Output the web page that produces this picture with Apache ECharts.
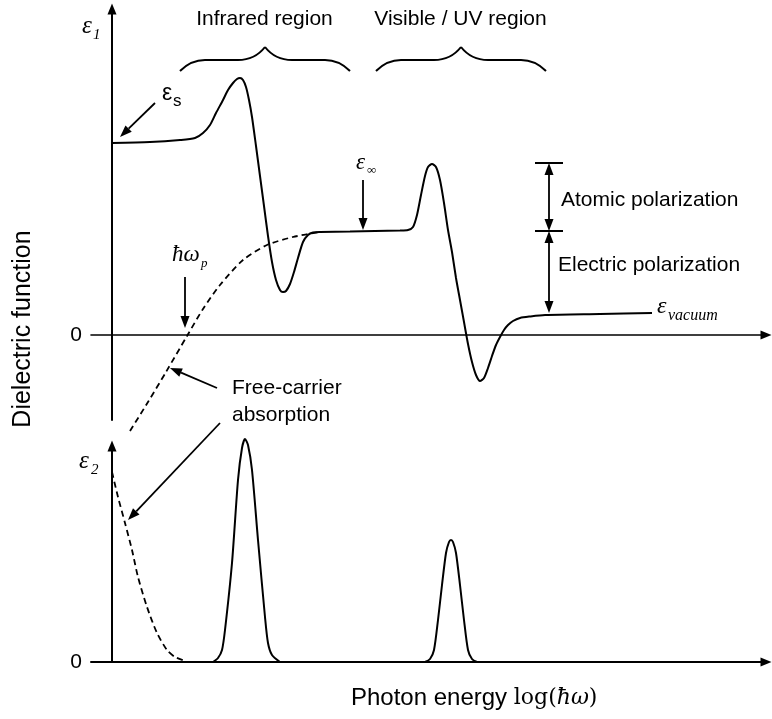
<!DOCTYPE html>
<html><head><meta charset="utf-8">
<script src="https://cdn.jsdelivr.net/npm/echarts@6/dist/echarts.min.js"></script>
<style>html,body{margin:0;padding:0;background:#fff}#c{width:772px;height:719px}</style>
</head><body><div id="c"></div>
<script>
// ---- data (schematic units: x = log photon energy, y = dielectric function) ----
const eps1X = [0,3.8,6.8,8.3,9.1,9.8,10.4,11.1,11.6,12.1,12.5,12.8,13.1,13.4,13.7,14.0,14.4,14.8,15.2,15.6,16.0,16.4,16.8,17.1,17.4,17.8,18.2,18.6,19.1,19.6,20.1,20.8,23.8,28.8,29.6,30.1,30.5,30.9,31.3,31.6,32.0,32.4,32.8,33.2,33.6,34.0,34.4,34.8,35.2,35.6,36.0,36.4,36.8,37.2,37.6,38.0,38.4,38.8,39.2,39.6,40.1,40.8,41.8,43.3,48.8,54.0];
const eps1Y = [19.2,19.3,19.5,19.7,20.2,21.0,22.2,23.5,24.5,25.2,25.6,25.7,25.5,24.8,23.5,21.8,18.9,15.9,12.9,9.9,7.3,5.5,4.5,4.3,4.4,5.1,6.3,7.7,9.3,10.0,10.25,10.3,10.35,10.45,10.5,10.8,12.0,14.0,15.9,16.8,17.1,16.8,15.5,13.2,10.5,8.3,5.7,3.5,1.3,-0.9,-2.7,-4.0,-4.6,-4.3,-3.3,-2.1,-1.0,-0.2,0.5,1.0,1.4,1.7,1.85,2.0,2.1,2.2];
const freeEps1X = [1.8,3.6,5.4,7.5,9.1,10.8,13.1,15.5,18.1,20.8];
const freeEps1Y = [-9.6,-6.7,-3.7,-0.1,2.6,5.0,7.5,9.0,9.8,10.3];
const freeEps2X = [0,0.6,1.3,2.0,2.6,3.5,4.5,5.5,6.3,7.3];
const freeEps2Y = [19.0,16.5,13.9,11.2,8.5,5.5,2.9,1.2,0.5,0.1];
const irPeakX = [10.1,10.6,11.0,11.3,12.0,12.6,13.0,13.3,13.6,14.0,14.6,15.3,15.6,16.0,16.8];
const irPeakY = [0,0.4,1.2,3.2,9.9,18.2,21.4,22.3,21.7,19.2,12.2,4.5,1.9,0.7,0];
const uvPeakX = [31.3,31.8,32.2,32.6,33.0,33.4,33.7,33.9,34.1,34.4,34.8,35.2,35.6,36.0,36.5];
const uvPeakY = [0,0.3,1.2,4.2,7.7,10.9,12.0,12.2,12.0,10.9,7.7,4.2,1.2,0.3,0];
const yTickLabels = ['0'];

const zip = (xs, ys) => xs.map((x, i) => [x, ys[i]]);
const SANS = "'Liberation Sans', Arial, sans-serif";
const SERIF = "'Liberation Serif', 'Times New Roman', serif";
const BLACK = '#000';

const chart = echarts.init(document.getElementById('c'), null, {renderer: 'canvas'});

function xAx(gi, w) {
  return {type: 'value', gridIndex: gi, min: -2.1, max: 65.4,
    axisLine: {onZero: true, lineStyle: {color: BLACK, width: w}, symbol: ['none', 'triangle'], symbolSize: [9, 11]},
    axisTick: {show: false}, axisLabel: {show: false}, splitLine: {show: false}};
}
function yAx(gi, min, max) {
  return {type: 'value', gridIndex: gi, min: min, max: max,
    axisLine: {onZero: true, lineStyle: {color: BLACK, width: 2}, symbol: ['none', 'triangle'], symbolSize: [9, 11]},
    axisTick: {show: false}, splitLine: {show: false},
    axisLabel: {showMinLabel: true, showMaxLabel: false, margin: 9, fontSize: 21, color: BLACK, fontFamily: SANS,
      formatter: v => (v === 0 ? yTickLabels[0] : '')}};
}
function curve(gi, xs, ys, dashed) {
  return {type: 'line', xAxisIndex: gi, yAxisIndex: gi, data: zip(xs, ys), showSymbol: false, symbol: 'none',
    smooth: 0.25, clip: false, silent: true,
    lineStyle: {color: BLACK, width: dashed ? 1.8 : 2, type: dashed ? [6, 4] : 'solid'}};
}

// ---- annotation helpers (pixel layout) ----
const G = [];
function txt(x, y, s, size, opt) {
  opt = opt || {};
  G.push({type: 'text', x: x, y: y, rotation: opt.rot || 0, silent: true,
    style: {text: s, fill: BLACK, fontSize: size, fontFamily: opt.font || SANS, fontStyle: opt.italic ? 'italic' : 'normal',
      align: opt.align || 'left', verticalAlign: 'middle', rich: opt.rich}});
}
function arrow(x1, y1, x2, y2, both) {
  const L = 12, W = 4.5;
  const dx = x2 - x1, dy = y2 - y1, len = Math.hypot(dx, dy), ux = dx / len, uy = dy / len, px = -uy, py = ux;
  const head = (tx, ty, sx, sy) => {
    const bx = tx - sx * L, by = ty - sy * L;
    G.push({type: 'polygon', silent: true, shape: {points: [[tx, ty], [bx + px * W, by + py * W], [bx - px * W, by - py * W]]}, style: {fill: BLACK}});
  };
  head(x2, y2, ux, uy);
  let sx = x1, sy = y1;
  if (both) { head(x1, y1, -ux, -uy); sx = x1 + ux * L; sy = y1 + uy * L; }
  G.push({type: 'line', silent: true, shape: {x1: sx, y1: sy, x2: x2 - ux * L, y2: y2 - uy * L}, style: {stroke: BLACK, lineWidth: 1.8}});
}
function hline(x1, x2, y) {
  G.push({type: 'line', silent: true, shape: {x1: x1, y1: y, x2: x2, y2: y}, style: {stroke: BLACK, lineWidth: 2}});
}
function brace(L, R, yEnd, yFlat, yTip) {
  const T = (L + R) / 2;
  const segs = [
    [L, yEnd, L + 6, yFlat + 5, L + 15, yFlat, L + 25, yFlat],
    [T - 27, yFlat, T - 15, yFlat, T - 7, yFlat - 4, T, yTip],
    [T, yTip, T + 7, yFlat - 4, T + 15, yFlat, T + 27, yFlat],
    [R - 25, yFlat, R - 15, yFlat, R - 6, yFlat + 5, R, yEnd]
  ];
  segs.forEach(s => G.push({type: 'bezierCurve', silent: true,
    shape: {x1: s[0], y1: s[1], cpx1: s[2], cpy1: s[3], cpx2: s[4], cpy2: s[5], x2: s[6], y2: s[7]},
    style: {stroke: BLACK, lineWidth: 2, fill: null}}));
  hline(L + 25, T - 27, yFlat);
  hline(T + 27, R - 25, yFlat);
}

// region braces and labels
brace(180, 350, 71, 60, 47);
brace(376, 546, 71, 60, 47);
txt(264.5, 19.6, 'Infrared region', 21, {align: 'center'});
txt(460.5, 19.6, 'Visible / UV region', 21, {align: 'center'});

// axis titles
txt(23, 329, 'Dielectric function', 25, {align: 'center', rot: Math.PI / 2});
txt(351, 698.5, '{a|Photon energy }{b|log(}{c|ħω}{b|)}', 24, {rich: {
  a: {fontFamily: SANS, fontSize: 24, fill: BLACK},
  b: {fontFamily: "'DejaVu Serif', serif", fontSize: 22, fill: BLACK},
  c: {fontFamily: "'DejaVu Serif', serif", fontSize: 22, fontStyle: 'italic', fill: BLACK}}});

// epsilon labels
txt(82, 26.5, 'ε', 25, {font: SERIF, italic: true});
txt(93, 35, '1', 15, {font: SERIF, italic: true});
txt(79, 461.5, 'ε', 25, {font: SERIF, italic: true});
txt(91, 470, '2', 15, {font: SERIF, italic: true});
txt(162, 94, 'ε', 23);
txt(173, 101, 's', 17);
txt(356, 163.2, 'ε', 23, {font: SERIF, italic: true});
txt(367, 170.6, '∞', 13, {font: SERIF});
txt(657, 306.8, 'ε', 24, {font: SERIF, italic: true});
txt(668, 315.6, 'vacuum', 16, {font: SERIF, italic: true});
txt(172, 255.2, 'ħω', 23, {font: SERIF, italic: true});
txt(201, 263.6, 'p', 13, {font: SERIF, italic: true});

// arrows
arrow(155, 103, 120, 137);
arrow(363, 180, 363, 230);
arrow(185, 277, 185, 328);
arrow(217, 388, 170, 368);
arrow(220, 423, 128, 520);
arrow(549, 163, 549, 231, true);
arrow(549, 231, 549, 313, true);
hline(535, 563, 163);
hline(535, 563, 231);
txt(561, 200.6, 'Atomic polarization', 21);
txt(558, 265.6, 'Electric polarization', 21);
txt(232, 388.6, 'Free-carrier', 21);
txt(232, 415.6, 'absorption', 21);

chart.setOption({
  animation: false,
  backgroundColor: '#fff',
  grid: [
    {left: 91, top: 9, width: 675, height: 411},
    {left: 91, top: 446, width: 675, height: 216}
  ],
  xAxis: [xAx(0, 1.6), xAx(1, 2)],
  yAxis: [yAx(0, -8.5, 32.6), yAx(1, 0, 21.6)],
  series: [
    curve(0, eps1X, eps1Y, false),
    curve(0, freeEps1X, freeEps1Y, true),
    curve(1, freeEps2X, freeEps2Y, true),
    curve(1, irPeakX, irPeakY, false),
    curve(1, uvPeakX, uvPeakY, false)
  ],
  graphic: G
});
</script></body></html>
